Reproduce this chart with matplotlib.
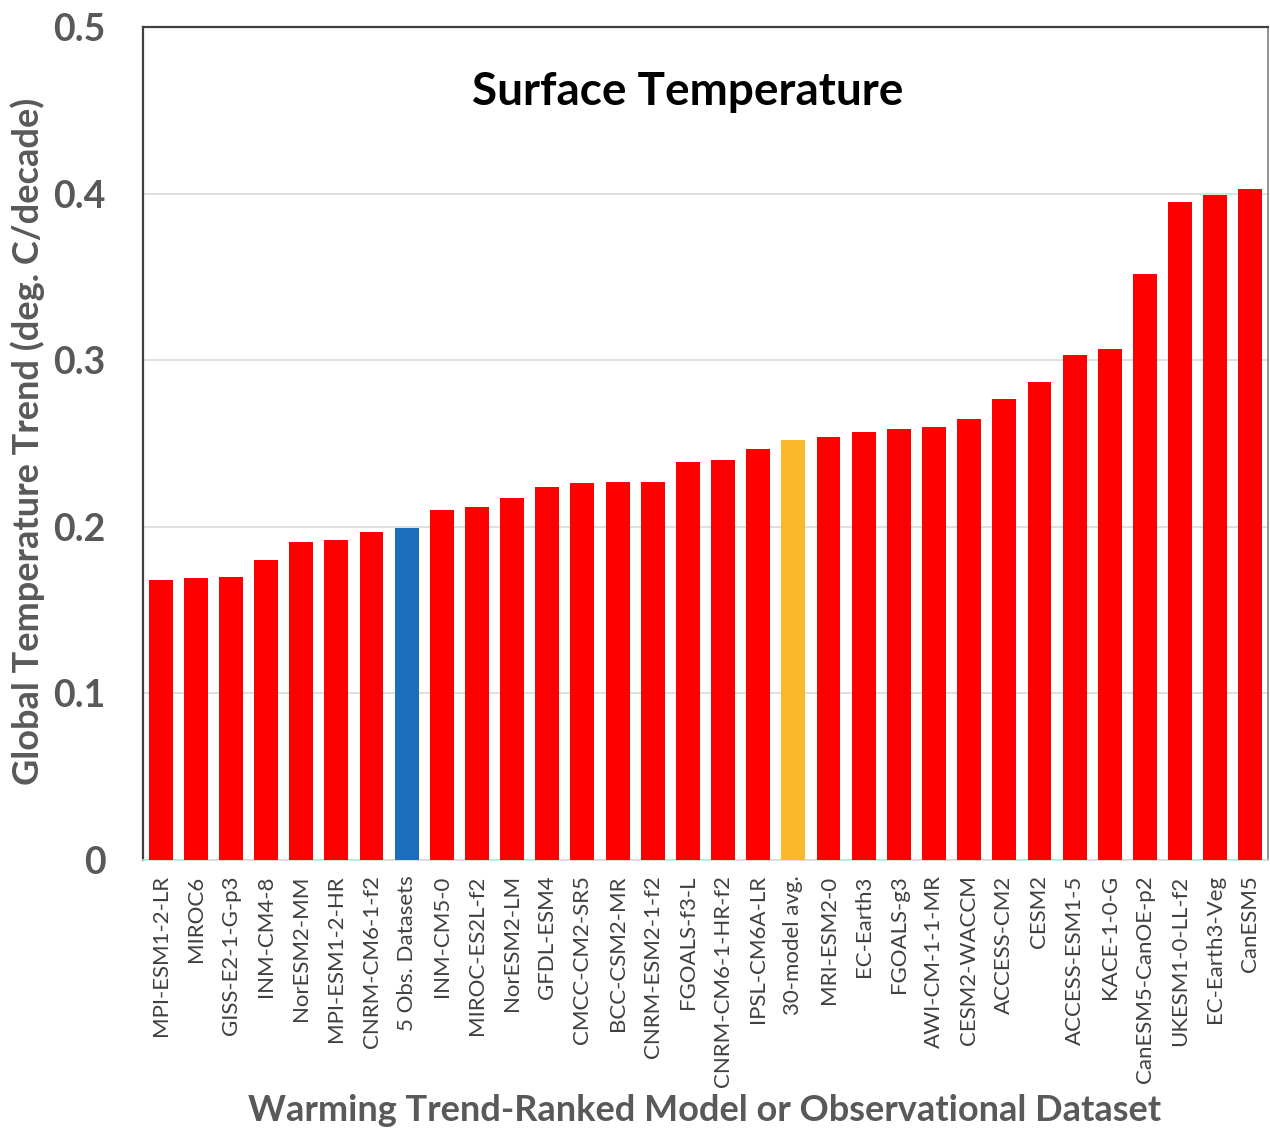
import matplotlib
matplotlib.use("Agg")
import matplotlib.pyplot as plt

plt.rcParams['font.family'] = ['Lato', 'DejaVu Sans']

models = ["MPI-ESM1-2-LR", "MIROC6", "GISS-E2-1-G-p3", "INM-CM4-8", "NorESM2-MM",
          "MPI-ESM1-2-HR", "CNRM-CM6-1-f2", "5 Obs. Datasets", "INM-CM5-0", "MIROC-ES2L-f2",
          "NorESM2-LM", "GFDL-ESM4", "CMCC-CM2-SR5", "BCC-CSM2-MR", "CNRM-ESM2-1-f2",
          "FGOALS-f3-L", "CNRM-CM6-1-HR-f2", "IPSL-CM6A-LR", "30-model avg.", "MRI-ESM2-0",
          "EC-Earth3", "FGOALS-g3", "AWI-CM-1-1-MR", "CESM2-WACCM", "ACCESS-CM2",
          "CESM2", "ACCESS-ESM1-5", "KACE-1-0-G", "CanESM5-CanOE-p2", "UKESM1-0-LL-f2",
          "EC-Earth3-Veg", "CanESM5"]
trends = [0.168, 0.169, 0.170, 0.180, 0.191, 0.192, 0.197, 0.199, 0.210, 0.212,
          0.217, 0.224, 0.226, 0.227, 0.227, 0.239, 0.240, 0.247, 0.252, 0.254,
          0.257, 0.259, 0.260, 0.265, 0.277, 0.287, 0.303, 0.307, 0.352, 0.395,
          0.399, 0.403]
yticks = [0, 0.1, 0.2, 0.3, 0.4, 0.5]
ytick_labels = ["0", "0.1", "0.2", "0.3", "0.4", "0.5"]

RED = "#FF0000"
BLUE = "#1C6EBA"
ORANGE = "#FBB829"
colors = []
for m in models:
    if m.startswith("5 Obs"):
        colors.append(BLUE)
    elif m.startswith("30-model"):
        colors.append(ORANGE)
    else:
        colors.append(RED)

fig = plt.figure(figsize=(12.7, 11.32), dpi=100)
ax = fig.add_axes([0.1126, 0.2403, 0.8858, 0.7358])

x = list(range(len(models)))
ax.bar(x, trends, width=0.68, color=colors, zorder=3)
ax.set_xlim(-0.5, len(models) - 0.5)
ax.set_ylim(0, 0.5)
ax.set_yticks(yticks)
ax.set_yticklabels(ytick_labels, fontsize=27, fontweight='bold', color='#595959')
ax.set_xticks(x)
ax.set_xticklabels(models, rotation=90, fontsize=16, color='#404040')
ax.tick_params(axis='both', length=0)
ax.tick_params(axis='y', pad=27)
ax.tick_params(axis='x', pad=11)

ax.yaxis.grid(True, color='#D9D9D9', linewidth=1.2, zorder=0)
ax.set_axisbelow(True)

ax.spines['left'].set_color('#404040')
ax.spines['left'].set_linewidth(1.6)
ax.spines['top'].set_color('#404040')
ax.spines['top'].set_linewidth(1.6)
ax.spines['right'].set_color('#808080')
ax.spines['right'].set_linewidth(1.2)
ax.spines['bottom'].set_color('#D9D9D9')
ax.spines['bottom'].set_linewidth(1.2)

ax.text(0.484, 0.922, "Surface Temperature", transform=ax.transAxes,
        ha='center', va='center', fontsize=33, fontweight='bold', color='black')

fig.text(0.022, 0.61, "Global Temperature Trend (deg. C/decade)", rotation=90,
         ha='center', va='center', fontsize=26, fontweight='bold', color='#595959')
fig.text(0.555, 0.019, "Warming Trend-Ranked Model or Observational Dataset",
         ha='center', va='center', fontsize=26, fontweight='bold', color='#595959')

fig.savefig("out.png", dpi=100)
